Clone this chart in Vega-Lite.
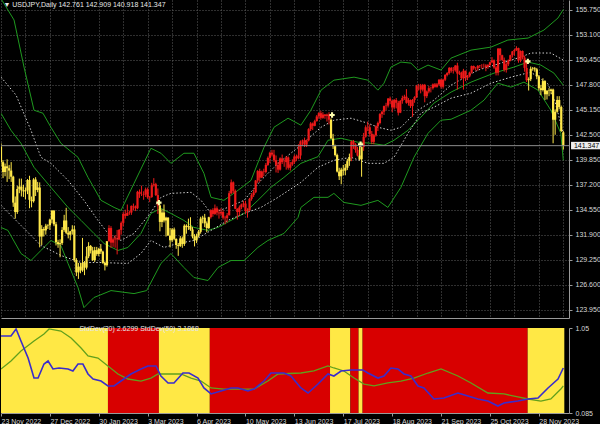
{
"$schema":"https://vega.github.io/schema/vega-lite/v6.json",
"background":"#000000",
"padding":0,
"spacing":6,
"config":{"view":{"stroke":null},"font":"Liberation Sans","axis":{"labelFont":"Liberation Sans","labelFontSize":7,"labelColor":"#d8d8d8","domainColor":"#9a9a9a","tickColor":"#9a9a9a"}},
"datasets":{
"k":[
{"i":0,"o":141.25,"h":141.6,"l":139.15,"c":139.6,"t":"y"},
{"i":1,"o":139.6,"h":139.8,"l":137.9,"c":138.55,"t":"y"},
{"i":2,"o":138.55,"h":139.45,"l":138.1,"c":139.15,"t":"y"},
{"i":3,"o":139.15,"h":139.9,"l":137.5,"c":138.95,"t":"y"},
{"i":4,"o":138.95,"h":139.3,"l":137.8,"c":138.7,"t":"y"},
{"i":5,"o":138.7,"h":139.6,"l":137.5,"c":138.05,"t":"y"},
{"i":6,"o":138.05,"h":138.15,"l":134.85,"c":135.3,"t":"y"},
{"i":7,"o":135.3,"h":135.95,"l":133.6,"c":134.3,"t":"y"},
{"i":8,"o":134.3,"h":137.1,"l":134.1,"c":136.75,"t":"y"},
{"i":9,"o":136.75,"h":137.85,"l":136.3,"c":137.0,"t":"y"},
{"i":10,"o":137.0,"h":137.85,"l":135.95,"c":136.6,"t":"y"},
{"i":11,"o":136.6,"h":137.2,"l":135.9,"c":136.5,"t":"y"},
{"i":12,"o":136.5,"h":136.9,"l":135.65,"c":136.6,"t":"y"},
{"i":13,"o":136.6,"h":137.8,"l":136.2,"c":137.7,"t":"y"},
{"i":14,"o":137.7,"h":138.15,"l":134.7,"c":135.6,"t":"y"},
{"i":15,"o":135.6,"h":135.95,"l":134.8,"c":135.45,"t":"y"},
{"i":16,"o":135.45,"h":137.9,"l":135.3,"c":137.75,"t":"y"},
{"i":17,"o":137.75,"h":138.0,"l":136.0,"c":136.65,"t":"y"},
{"i":18,"o":136.65,"h":137.5,"l":136.4,"c":136.9,"t":"y"},
{"i":19,"o":136.9,"h":137.45,"l":130.55,"c":131.7,"t":"y"},
{"i":20,"o":131.7,"h":132.9,"l":130.8,"c":132.5,"t":"y"},
{"i":21,"o":132.5,"h":132.7,"l":131.7,"c":132.35,"t":"y"},
{"i":22,"o":132.35,"h":133.05,"l":131.9,"c":132.85,"t":"y"},
{"i":23,"o":132.85,"h":133.0,"l":132.5,"c":132.9,"t":"y"},
{"i":24,"o":132.9,"h":133.6,"l":132.4,"c":133.5,"t":"y"},
{"i":25,"o":133.5,"h":134.5,"l":133.1,"c":134.45,"t":"y"},
{"i":26,"o":134.45,"h":134.5,"l":132.8,"c":133.0,"t":"y"},
{"i":27,"o":133.0,"h":133.25,"l":130.75,"c":131.1,"t":"y"},
{"i":28,"o":131.1,"h":131.35,"l":130.5,"c":130.9,"t":"y"},
{"i":29,"o":130.9,"h":131.4,"l":129.5,"c":131.0,"t":"y"},
{"i":30,"o":131.0,"h":132.7,"l":130.8,"c":132.4,"t":"y"},
{"i":31,"o":132.4,"h":134.0,"l":132.2,"c":133.4,"t":"y"},
{"i":32,"o":133.4,"h":134.75,"l":131.95,"c":132.1,"t":"y"},
{"i":33,"o":132.1,"h":132.7,"l":131.5,"c":131.9,"t":"y"},
{"i":34,"o":131.9,"h":132.3,"l":131.3,"c":132.25,"t":"y"},
{"i":35,"o":132.25,"h":132.9,"l":131.9,"c":132.45,"t":"y"},
{"i":36,"o":132.45,"h":132.85,"l":129.0,"c":129.2,"t":"y"},
{"i":37,"o":129.2,"h":129.4,"l":127.5,"c":127.9,"t":"y"},
{"i":38,"o":127.9,"h":128.9,"l":127.2,"c":128.5,"t":"y"},
{"i":39,"o":128.5,"h":128.9,"l":127.8,"c":128.1,"t":"y"},
{"i":40,"o":128.1,"h":131.55,"l":127.95,"c":128.9,"t":"y"},
{"i":41,"o":128.9,"h":129.1,"l":127.6,"c":128.4,"t":"y"},
{"i":42,"o":128.4,"h":130.6,"l":128.2,"c":129.6,"t":"y"},
{"i":43,"o":129.6,"h":131.1,"l":129.4,"c":130.7,"t":"y"},
{"i":44,"o":130.7,"h":130.8,"l":129.9,"c":130.2,"t":"y"},
{"i":45,"o":130.2,"h":130.6,"l":129.1,"c":129.2,"t":"y"},
{"i":46,"o":129.2,"h":130.6,"l":129.0,"c":130.25,"t":"y"},
{"i":47,"o":130.25,"h":130.6,"l":129.65,"c":129.85,"t":"y"},
{"i":48,"o":129.85,"h":130.5,"l":129.6,"c":130.4,"t":"y"},
{"i":49,"o":130.4,"h":130.9,"l":129.85,"c":130.1,"t":"y"},
{"i":50,"o":130.1,"h":130.2,"l":128.8,"c":128.9,"t":"y"},
{"i":51,"o":128.9,"h":129.05,"l":128.1,"c":128.65,"t":"y"},
{"i":52,"o":128.65,"h":131.2,"l":128.5,"c":131.2,"t":"y"},
{"i":53,"o":131.2,"h":132.9,"l":131.15,"c":132.6,"t":"r"},
{"i":54,"o":132.6,"h":132.8,"l":130.5,"c":131.05,"t":"r"},
{"i":55,"o":131.05,"h":131.6,"l":130.6,"c":131.4,"t":"r"},
{"i":56,"o":131.4,"h":131.85,"l":130.5,"c":131.5,"t":"r"},
{"i":57,"o":131.5,"h":132.4,"l":129.8,"c":131.4,"t":"r"},
{"i":58,"o":131.4,"h":132.5,"l":131.3,"c":132.4,"t":"r"},
{"i":59,"o":132.4,"h":133.3,"l":131.9,"c":133.15,"t":"r"},
{"i":60,"o":133.15,"h":134.3,"l":132.8,"c":134.1,"t":"r"},
{"i":61,"o":134.1,"h":134.55,"l":133.6,"c":133.9,"t":"r"},
{"i":62,"o":133.9,"h":135.1,"l":133.9,"c":134.2,"t":"r"},
{"i":63,"o":134.2,"h":134.45,"l":134.0,"c":134.25,"t":"r"},
{"i":64,"o":134.25,"h":135.0,"l":134.0,"c":134.95,"t":"r"},
{"i":65,"o":134.95,"h":135.2,"l":134.5,"c":134.9,"t":"r"},
{"i":66,"o":134.9,"h":135.0,"l":134.4,"c":134.7,"t":"r"},
{"i":67,"o":134.7,"h":136.55,"l":134.6,"c":136.45,"t":"r"},
{"i":68,"o":136.45,"h":136.7,"l":135.8,"c":136.2,"t":"r"},
{"i":69,"o":136.2,"h":137.1,"l":136.0,"c":136.2,"t":"r"},
{"i":70,"o":136.2,"h":136.5,"l":135.6,"c":136.15,"t":"r"},
{"i":71,"o":136.15,"h":136.9,"l":135.9,"c":136.7,"t":"r"},
{"i":72,"o":136.7,"h":136.9,"l":135.7,"c":135.85,"t":"r"},
{"i":73,"o":135.85,"h":136.0,"l":135.35,"c":135.9,"t":"r"},
{"i":74,"o":135.9,"h":137.4,"l":135.8,"c":137.15,"t":"r"},
{"i":75,"o":137.15,"h":137.9,"l":137.0,"c":137.25,"t":"r"},
{"i":76,"o":137.25,"h":137.4,"l":136.0,"c":136.1,"t":"r"},
{"i":77,"o":136.1,"h":136.8,"l":134.1,"c":135.0,"t":"r"},
{"i":78,"o":135.0,"h":135.1,"l":132.25,"c":133.25,"t":"y"},
{"i":79,"o":133.25,"h":134.6,"l":132.7,"c":134.25,"t":"y"},
{"i":80,"o":134.25,"h":135.1,"l":133.2,"c":133.4,"t":"y"},
{"i":81,"o":133.4,"h":133.8,"l":131.7,"c":133.7,"t":"y"},
{"i":82,"o":133.7,"h":133.75,"l":131.8,"c":131.8,"t":"y"},
{"i":83,"o":131.8,"h":132.6,"l":130.55,"c":131.3,"t":"y"},
{"i":84,"o":131.3,"h":132.6,"l":131.1,"c":132.45,"t":"y"},
{"i":85,"o":132.45,"h":132.65,"l":131.3,"c":131.45,"t":"y"},
{"i":86,"o":131.45,"h":131.5,"l":130.4,"c":130.8,"t":"y"},
{"i":87,"o":130.8,"h":131.0,"l":129.65,"c":130.7,"t":"y"},
{"i":88,"o":130.7,"h":131.75,"l":130.6,"c":131.5,"t":"y"},
{"i":89,"o":131.5,"h":131.7,"l":130.5,"c":130.9,"t":"y"},
{"i":90,"o":130.9,"h":133.0,"l":130.7,"c":132.85,"t":"y"},
{"i":91,"o":132.85,"h":133.0,"l":132.0,"c":132.7,"t":"y"},
{"i":92,"o":132.7,"h":133.6,"l":132.4,"c":132.8,"t":"y"},
{"i":93,"o":132.8,"h":133.75,"l":132.3,"c":132.45,"t":"y"},
{"i":94,"o":132.45,"h":132.7,"l":131.5,"c":131.7,"t":"y"},
{"i":95,"o":131.7,"h":131.95,"l":130.65,"c":131.3,"t":"y"},
{"i":96,"o":131.3,"h":132.0,"l":131.0,"c":131.8,"t":"y"},
{"i":97,"o":131.8,"h":132.4,"l":131.6,"c":132.2,"t":"y"},
{"i":98,"o":132.2,"h":133.8,"l":132.0,"c":133.6,"t":"y"},
{"i":99,"o":133.6,"h":133.9,"l":133.1,"c":133.7,"t":"y"},
{"i":100,"o":133.7,"h":134.1,"l":132.7,"c":133.1,"t":"y"},
{"i":101,"o":133.1,"h":133.3,"l":132.15,"c":132.6,"t":"y"},
{"i":102,"o":132.6,"h":133.8,"l":132.5,"c":133.75,"t":"y"},
{"i":103,"o":133.75,"h":134.6,"l":133.6,"c":134.5,"t":"r"},
{"i":104,"o":134.5,"h":134.7,"l":133.8,"c":134.1,"t":"r"},
{"i":105,"o":134.1,"h":135.1,"l":134.0,"c":134.7,"t":"r"},
{"i":106,"o":134.7,"h":134.9,"l":133.95,"c":134.25,"t":"r"},
{"i":107,"o":134.25,"h":134.6,"l":133.6,"c":134.15,"t":"r"},
{"i":108,"o":134.15,"h":134.7,"l":133.9,"c":134.3,"t":"r"},
{"i":109,"o":134.3,"h":134.5,"l":133.5,"c":133.7,"t":"r"},
{"i":110,"o":133.7,"h":133.9,"l":133.0,"c":133.65,"t":"r"},
{"i":111,"o":133.65,"h":134.2,"l":133.2,"c":133.95,"t":"r"},
{"i":112,"o":133.95,"h":136.55,"l":133.95,"c":136.3,"t":"r"},
{"i":113,"o":136.3,"h":137.75,"l":136.2,"c":137.45,"t":"r"},
{"i":114,"o":137.45,"h":137.55,"l":136.3,"c":136.55,"t":"r"},
{"i":115,"o":136.55,"h":136.7,"l":134.6,"c":134.65,"t":"r"},
{"i":116,"o":134.65,"h":134.7,"l":133.5,"c":134.3,"t":"r"},
{"i":117,"o":134.3,"h":135.0,"l":133.9,"c":134.8,"t":"r"},
{"i":118,"o":134.8,"h":135.2,"l":134.6,"c":135.1,"t":"r"},
{"i":119,"o":135.1,"h":135.5,"l":134.8,"c":135.2,"t":"r"},
{"i":120,"o":135.2,"h":135.5,"l":134.1,"c":134.4,"t":"r"},
{"i":121,"o":134.4,"h":134.7,"l":133.7,"c":134.5,"t":"r"},
{"i":122,"o":134.5,"h":135.8,"l":134.4,"c":135.7,"t":"r"},
{"i":123,"o":135.7,"h":136.3,"l":135.5,"c":136.1,"t":"r"},
{"i":124,"o":136.1,"h":136.7,"l":135.9,"c":136.4,"t":"r"},
{"i":125,"o":136.4,"h":137.7,"l":136.3,"c":137.65,"t":"r"},
{"i":126,"o":137.65,"h":138.75,"l":137.4,"c":138.65,"t":"r"},
{"i":127,"o":138.65,"h":138.9,"l":137.5,"c":137.95,"t":"r"},
{"i":128,"o":137.95,"h":138.7,"l":137.9,"c":138.6,"t":"r"},
{"i":129,"o":138.6,"h":138.9,"l":138.1,"c":138.55,"t":"r"},
{"i":130,"o":138.55,"h":139.5,"l":138.4,"c":139.3,"t":"r"},
{"i":131,"o":139.3,"h":140.2,"l":139.2,"c":140.05,"t":"r"},
{"i":132,"o":140.05,"h":140.7,"l":139.5,"c":140.6,"t":"r"},
{"i":133,"o":140.6,"h":140.9,"l":140.2,"c":140.4,"t":"r"},
{"i":134,"o":140.4,"h":140.9,"l":139.6,"c":139.8,"t":"r"},
{"i":135,"o":139.8,"h":140.3,"l":138.5,"c":139.3,"t":"r"},
{"i":136,"o":139.3,"h":139.6,"l":138.45,"c":138.8,"t":"r"},
{"i":137,"o":138.8,"h":140.1,"l":138.7,"c":140.0,"t":"r"},
{"i":138,"o":140.0,"h":140.4,"l":139.4,"c":139.6,"t":"r"},
{"i":139,"o":139.6,"h":139.9,"l":139.1,"c":139.6,"t":"r"},
{"i":140,"o":139.6,"h":140.25,"l":138.8,"c":140.1,"t":"r"},
{"i":141,"o":140.1,"h":140.2,"l":138.8,"c":139.0,"t":"r"},
{"i":142,"o":139.0,"h":139.6,"l":138.7,"c":139.35,"t":"r"},
{"i":143,"o":139.35,"h":139.9,"l":139.2,"c":139.6,"t":"r"},
{"i":144,"o":139.6,"h":140.4,"l":139.4,"c":140.2,"t":"r"},
{"i":145,"o":140.2,"h":140.4,"l":139.7,"c":140.0,"t":"r"},
{"i":146,"o":140.0,"h":141.5,"l":139.9,"c":140.3,"t":"r"},
{"i":147,"o":140.3,"h":141.9,"l":139.9,"c":141.8,"t":"r"},
{"i":148,"o":141.8,"h":142.0,"l":141.3,"c":141.9,"t":"r"},
{"i":149,"o":141.9,"h":142.2,"l":141.2,"c":141.45,"t":"r"},
{"i":150,"o":141.45,"h":142.0,"l":141.2,"c":141.9,"t":"r"},
{"i":151,"o":141.9,"h":143.2,"l":141.8,"c":143.1,"t":"r"},
{"i":152,"o":143.1,"h":143.85,"l":142.9,"c":143.7,"t":"r"},
{"i":153,"o":143.7,"h":143.8,"l":143.0,"c":143.45,"t":"r"},
{"i":154,"o":143.45,"h":144.1,"l":143.4,"c":143.95,"t":"r"},
{"i":155,"o":143.95,"h":144.6,"l":143.9,"c":144.45,"t":"r"},
{"i":156,"o":144.45,"h":144.9,"l":144.2,"c":144.8,"t":"r"},
{"i":157,"o":144.8,"h":145.05,"l":144.1,"c":144.3,"t":"r"},
{"i":158,"o":144.3,"h":144.9,"l":144.2,"c":144.65,"t":"r"},
{"i":159,"o":144.65,"h":144.7,"l":144.2,"c":144.5,"t":"r"},
{"i":160,"o":144.5,"h":144.75,"l":143.9,"c":144.65,"t":"r"},
{"i":161,"o":144.65,"h":144.9,"l":143.6,"c":144.1,"t":"r"},
{"i":162,"o":144.1,"h":144.25,"l":142.1,"c":142.1,"t":"y"},
{"i":163,"o":142.1,"h":142.6,"l":141.0,"c":141.3,"t":"y"},
{"i":164,"o":141.3,"h":141.45,"l":140.2,"c":140.35,"t":"y"},
{"i":165,"o":140.35,"h":140.5,"l":138.5,"c":138.6,"t":"y"},
{"i":166,"o":138.6,"h":139.0,"l":137.7,"c":138.1,"t":"y"},
{"i":167,"o":138.1,"h":139.0,"l":137.25,"c":138.8,"t":"y"},
{"i":168,"o":138.8,"h":139.3,"l":138.2,"c":138.7,"t":"y"},
{"i":169,"o":138.7,"h":139.4,"l":138.2,"c":139.0,"t":"y"},
{"i":170,"o":139.0,"h":139.95,"l":138.75,"c":139.7,"t":"y"},
{"i":171,"o":139.7,"h":140.5,"l":139.2,"c":140.1,"t":"y"},
{"i":172,"o":140.1,"h":141.9,"l":139.7,"c":141.8,"t":"r"},
{"i":173,"o":141.8,"h":141.95,"l":141.0,"c":141.5,"t":"r"},
{"i":174,"o":141.5,"h":141.6,"l":140.6,"c":140.9,"t":"r"},
{"i":175,"o":140.9,"h":141.2,"l":140.2,"c":140.3,"t":"r"},
{"i":176,"o":140.3,"h":141.3,"l":139.8,"c":139.9,"t":"y"},
{"i":177,"o":139.9,"h":141.15,"l":138.05,"c":141.2,"t":"y"},
{"i":178,"o":141.2,"h":142.7,"l":140.8,"c":142.3,"t":"r"},
{"i":179,"o":142.3,"h":143.5,"l":142.2,"c":143.3,"t":"r"},
{"i":180,"o":143.3,"h":143.9,"l":142.9,"c":143.3,"t":"r"},
{"i":181,"o":143.3,"h":143.6,"l":142.3,"c":142.6,"t":"r"},
{"i":182,"o":142.6,"h":142.9,"l":141.5,"c":141.75,"t":"r"},
{"i":183,"o":141.75,"h":142.6,"l":141.5,"c":142.45,"t":"r"},
{"i":184,"o":142.45,"h":143.5,"l":142.3,"c":143.4,"t":"r"},
{"i":185,"o":143.4,"h":143.9,"l":142.9,"c":143.75,"t":"r"},
{"i":186,"o":143.75,"h":144.8,"l":143.6,"c":144.7,"t":"r"},
{"i":187,"o":144.7,"h":145.05,"l":144.3,"c":144.95,"t":"r"},
{"i":188,"o":144.95,"h":145.6,"l":144.6,"c":145.55,"t":"r"},
{"i":189,"o":145.55,"h":145.9,"l":145.1,"c":145.6,"t":"r"},
{"i":190,"o":145.6,"h":146.4,"l":145.4,"c":146.35,"t":"r"},
{"i":191,"o":146.35,"h":146.55,"l":145.75,"c":146.1,"t":"r"},
{"i":192,"o":146.1,"h":146.2,"l":144.9,"c":145.4,"t":"r"},
{"i":193,"o":145.4,"h":146.3,"l":145.2,"c":146.2,"t":"r"},
{"i":194,"o":146.2,"h":146.4,"l":145.3,"c":145.9,"t":"r"},
{"i":195,"o":145.9,"h":146.1,"l":144.55,"c":144.85,"t":"r"},
{"i":196,"o":144.85,"h":146.2,"l":144.8,"c":146.1,"t":"r"},
{"i":197,"o":146.1,"h":146.65,"l":145.8,"c":146.4,"t":"r"},
{"i":198,"o":146.4,"h":146.75,"l":146.2,"c":146.55,"t":"r"},
{"i":199,"o":146.55,"h":147.35,"l":145.8,"c":145.9,"t":"r"},
{"i":200,"o":145.9,"h":146.4,"l":145.6,"c":146.2,"t":"r"},
{"i":201,"o":146.2,"h":146.25,"l":145.35,"c":145.55,"t":"r"},
{"i":202,"o":145.55,"h":146.3,"l":144.4,"c":146.2,"t":"r"},
{"i":203,"o":146.2,"h":146.6,"l":145.9,"c":146.5,"t":"r"},
{"i":204,"o":146.5,"h":147.8,"l":146.4,"c":147.7,"t":"r"},
{"i":205,"o":147.7,"h":147.9,"l":147.2,"c":147.7,"t":"r"},
{"i":206,"o":147.7,"h":147.9,"l":146.9,"c":147.3,"t":"r"},
{"i":207,"o":147.3,"h":147.9,"l":147.1,"c":147.8,"t":"r"},
{"i":208,"o":147.8,"h":147.9,"l":145.95,"c":146.6,"t":"r"},
{"i":209,"o":146.6,"h":147.2,"l":146.4,"c":147.1,"t":"r"},
{"i":210,"o":147.1,"h":147.7,"l":146.9,"c":147.45,"t":"r"},
{"i":211,"o":147.45,"h":147.6,"l":147.0,"c":147.45,"t":"r"},
{"i":212,"o":147.45,"h":147.95,"l":147.3,"c":147.85,"t":"r"},
{"i":213,"o":147.85,"h":148.0,"l":147.5,"c":147.6,"t":"r"},
{"i":214,"o":147.6,"h":148.0,"l":147.5,"c":147.85,"t":"r"},
{"i":215,"o":147.85,"h":148.4,"l":147.7,"c":148.35,"t":"r"},
{"i":216,"o":148.35,"h":148.45,"l":147.4,"c":147.6,"t":"r"},
{"i":217,"o":147.6,"h":148.45,"l":147.4,"c":148.35,"t":"r"},
{"i":218,"o":148.35,"h":148.95,"l":148.2,"c":148.85,"t":"r"},
{"i":219,"o":148.85,"h":149.15,"l":148.7,"c":149.05,"t":"r"},
{"i":220,"o":149.05,"h":149.7,"l":148.9,"c":149.6,"t":"r"},
{"i":221,"o":149.6,"h":149.7,"l":149.1,"c":149.3,"t":"r"},
{"i":222,"o":149.3,"h":149.7,"l":149.0,"c":149.35,"t":"r"},
{"i":223,"o":149.35,"h":149.9,"l":149.2,"c":149.85,"t":"r"},
{"i":224,"o":149.85,"h":150.15,"l":147.3,"c":149.0,"t":"r"},
{"i":225,"o":149.0,"h":149.3,"l":148.85,"c":149.1,"t":"r"},
{"i":226,"o":149.1,"h":149.2,"l":148.4,"c":148.5,"t":"r"},
{"i":227,"o":148.5,"h":149.5,"l":147.3,"c":149.3,"t":"r"},
{"i":228,"o":149.3,"h":149.3,"l":148.2,"c":148.55,"t":"r"},
{"i":229,"o":148.55,"h":148.85,"l":148.3,"c":148.7,"t":"r"},
{"i":230,"o":148.7,"h":149.2,"l":148.6,"c":149.1,"t":"r"},
{"i":231,"o":149.1,"h":149.85,"l":149.0,"c":149.8,"t":"r"},
{"i":232,"o":149.8,"h":149.85,"l":149.4,"c":149.55,"t":"r"},
{"i":233,"o":149.55,"h":149.7,"l":149.3,"c":149.55,"t":"r"},
{"i":234,"o":149.55,"h":149.9,"l":149.3,"c":149.8,"t":"r"},
{"i":235,"o":149.8,"h":149.9,"l":149.6,"c":149.85,"t":"r"},
{"i":236,"o":149.85,"h":150.0,"l":149.5,"c":149.85,"t":"r"},
{"i":237,"o":149.85,"h":150.05,"l":149.6,"c":149.85,"t":"r"},
{"i":238,"o":149.85,"h":150.0,"l":149.25,"c":149.7,"t":"r"},
{"i":239,"o":149.7,"h":150.0,"l":149.5,"c":149.9,"t":"r"},
{"i":240,"o":149.9,"h":150.25,"l":149.8,"c":150.2,"t":"r"},
{"i":241,"o":150.2,"h":150.75,"l":150.1,"c":150.4,"t":"r"},
{"i":242,"o":150.4,"h":150.5,"l":149.5,"c":149.65,"t":"r"},
{"i":243,"o":149.65,"h":149.8,"l":148.8,"c":149.1,"t":"r"},
{"i":244,"o":149.1,"h":151.7,"l":148.8,"c":151.65,"t":"r"},
{"i":245,"o":151.65,"h":151.7,"l":150.4,"c":150.95,"t":"r"},
{"i":246,"o":150.95,"h":151.0,"l":150.3,"c":150.45,"t":"r"},
{"i":247,"o":150.45,"h":150.7,"l":149.2,"c":149.4,"t":"r"},
{"i":248,"o":149.4,"h":150.2,"l":149.1,"c":150.0,"t":"r"},
{"i":249,"o":150.0,"h":150.5,"l":149.8,"c":150.4,"t":"r"},
{"i":250,"o":150.4,"h":151.0,"l":150.3,"c":150.95,"t":"r"},
{"i":251,"o":150.95,"h":151.4,"l":150.7,"c":151.35,"t":"r"},
{"i":252,"o":151.35,"h":151.6,"l":150.9,"c":151.5,"t":"r"},
{"i":253,"o":151.5,"h":151.9,"l":151.4,"c":151.7,"t":"r"},
{"i":254,"o":151.7,"h":151.75,"l":150.15,"c":150.4,"t":"r"},
{"i":255,"o":150.4,"h":151.45,"l":150.2,"c":151.4,"t":"r"},
{"i":256,"o":151.4,"h":151.45,"l":150.5,"c":150.7,"t":"r"},
{"i":257,"o":150.7,"h":150.9,"l":149.2,"c":149.6,"t":"r"},
{"i":258,"o":149.6,"h":150.4,"l":148.1,"c":148.3,"t":"r"},
{"i":259,"o":148.3,"h":148.6,"l":147.2,"c":148.4,"t":"y"},
{"i":260,"o":148.4,"h":149.75,"l":148.2,"c":149.5,"t":"y"},
{"i":261,"o":149.5,"h":149.7,"l":149.3,"c":149.55,"t":"y"},
{"i":262,"o":149.55,"h":149.7,"l":149.2,"c":149.45,"t":"y"},
{"i":263,"o":149.45,"h":149.6,"l":148.4,"c":148.7,"t":"y"},
{"i":264,"o":148.7,"h":148.85,"l":147.2,"c":147.45,"t":"y"},
{"i":265,"o":147.45,"h":147.8,"l":146.7,"c":147.25,"t":"y"},
{"i":266,"o":147.25,"h":148.5,"l":147.1,"c":148.2,"t":"y"},
{"i":267,"o":148.2,"h":148.3,"l":146.2,"c":146.8,"t":"y"},
{"i":268,"o":146.8,"h":147.2,"l":146.25,"c":147.2,"t":"y"},
{"i":269,"o":147.2,"h":147.45,"l":146.6,"c":147.15,"t":"y"},
{"i":270,"o":147.15,"h":147.4,"l":146.8,"c":147.3,"t":"y"},
{"i":271,"o":147.3,"h":147.4,"l":141.6,"c":144.1,"t":"y"},
{"i":272,"o":144.1,"h":145.2,"l":142.5,"c":144.95,"t":"y"},
{"i":273,"o":144.95,"h":146.6,"l":144.85,"c":146.2,"t":"y"},
{"i":274,"o":146.2,"h":146.6,"l":145.2,"c":145.45,"t":"y"},
{"i":275,"o":145.45,"h":145.6,"l":142.8,"c":142.9,"t":"y"},
{"i":276,"o":142.761,"h":142.909,"l":140.918,"c":141.347,"t":"y"}
],
"bands":[
{"s":"U","i":0,"p":156.95},{"s":"U","i":6.4,"p":154.69},{"s":"U","i":11.3,"p":149.69},{"s":"U","i":16.2,"p":145.11},{"s":"U","i":20.6,"p":144.79},{"s":"U","i":24.5,"p":143.3},{"s":"U","i":29.4,"p":141.6},{"s":"U","i":37.8,"p":140.11},{"s":"U","i":42.7,"p":137.98},{"s":"U","i":49.1,"p":135.54},{"s":"U","i":55.5,"p":134.79},{"s":"U","i":58.9,"p":134.47},{"s":"U","i":65.3,"p":137.35},{"s":"U","i":73.6,"p":141.07},{"s":"U","i":78.5,"p":140.54},{"s":"U","i":83.4,"p":139.47},{"s":"U","i":89.8,"p":140.54},{"s":"U","i":94.7,"p":140.54},{"s":"U","i":99.6,"p":138.41},{"s":"U","i":103.1,"p":135.86},{"s":"U","i":109.4,"p":135.54},{"s":"U","i":116.3,"p":136.6},{"s":"U","i":122.7,"p":137.66},{"s":"U","i":129.1,"p":141.18},{"s":"U","i":134,"p":143.3},{"s":"U","i":140.9,"p":144.26},{"s":"U","i":147.2,"p":143.52},{"s":"U","i":152.1,"p":145.11},{"s":"U","i":157.1,"p":147.24},{"s":"U","i":163.4,"p":148.3},{"s":"U","i":173.3,"p":148.62},{"s":"U","i":180.1,"p":148.3},{"s":"U","i":185,"p":147.24},{"s":"U","i":188,"p":147.98},{"s":"U","i":191.4,"p":149.69},{"s":"U","i":196.3,"p":150.22},{"s":"U","i":201.2,"p":150.11},{"s":"U","i":204.7,"p":149.37},{"s":"U","i":209.6,"p":149.9},{"s":"U","i":216,"p":149.37},{"s":"U","i":220.9,"p":150.64},{"s":"U","i":230.7,"p":151.49},{"s":"U","i":240.5,"p":151.81},{"s":"U","i":248.8,"p":152.56},{"s":"U","i":258.7,"p":152.77},{"s":"U","i":266.5,"p":153.62},{"s":"U","i":273.4,"p":154.9},{"s":"U","i":276,"p":155.8},
{"s":"M","i":0,"p":144.79},{"s":"M","i":4.9,"p":142.98},{"s":"M","i":9.8,"p":141.6},{"s":"M","i":16.2,"p":139.05},{"s":"M","i":24.5,"p":136.92},{"s":"M","i":32.9,"p":134.79},{"s":"M","i":39.3,"p":133.41},{"s":"M","i":45.6,"p":132.03},{"s":"M","i":50.6,"p":130.96},{"s":"M","i":57.4,"p":130.22},{"s":"M","i":62.3,"p":130.54},{"s":"M","i":68.7,"p":132.03},{"s":"M","i":73.6,"p":134.15},{"s":"M","i":78.5,"p":134.69},{"s":"M","i":83.4,"p":134.15},{"s":"M","i":89.8,"p":133.41},{"s":"M","i":94.7,"p":132.67},{"s":"M","i":101.6,"p":132.35},{"s":"M","i":106.5,"p":132.67},{"s":"M","i":112.9,"p":133.41},{"s":"M","i":119.3,"p":134.15},{"s":"M","i":126.1,"p":135.54},{"s":"M","i":132.5,"p":136.92},{"s":"M","i":138.9,"p":137.98},{"s":"M","i":147.2,"p":139.47},{"s":"M","i":155.6,"p":140.18},{"s":"M","i":160.5,"p":141.92},{"s":"M","i":166.9,"p":142.13},{"s":"M","i":175.2,"p":141.71},{"s":"M","i":181.6,"p":141.6},{"s":"M","i":188,"p":141.39},{"s":"M","i":192.9,"p":141.92},{"s":"M","i":199.8,"p":142.98},{"s":"M","i":206.1,"p":144.37},{"s":"M","i":212.5,"p":145.86},{"s":"M","i":220.9,"p":147.03},{"s":"M","i":230.7,"p":148.09},{"s":"M","i":242,"p":149.05},{"s":"M","i":251.8,"p":149.69},{"s":"M","i":258.7,"p":150.22},{"s":"M","i":265,"p":149.9},{"s":"M","i":271.4,"p":149.05},{"s":"M","i":276,"p":147.77},
{"s":"L","i":0,"p":132.66},{"s":"L","i":3.4,"p":132.35},{"s":"L","i":9.8,"p":129.9},{"s":"L","i":14.7,"p":129.15},{"s":"L","i":19.6,"p":130.22},{"s":"L","i":24.5,"p":131.28},{"s":"L","i":29.4,"p":130.75},{"s":"L","i":32.9,"p":128.84},{"s":"L","i":37.8,"p":126.28},{"s":"L","i":40.7,"p":124.15},{"s":"L","i":45.6,"p":125.22},{"s":"L","i":54,"p":125.96},{"s":"L","i":65.3,"p":125.64},{"s":"L","i":71.5,"p":125.96},{"s":"L","i":78.5,"p":128.84},{"s":"L","i":83.4,"p":129.9},{"s":"L","i":89.8,"p":128.41},{"s":"L","i":94.7,"p":127.35},{"s":"L","i":101.6,"p":127.03},{"s":"L","i":106.5,"p":128.41},{"s":"L","i":112.9,"p":129.15},{"s":"L","i":119.3,"p":129.15},{"s":"L","i":126.1,"p":130.54},{"s":"L","i":131,"p":131.28},{"s":"L","i":138.9,"p":132.03},{"s":"L","i":145.8,"p":133.73},{"s":"L","i":147.2,"p":134.79},{"s":"L","i":153.6,"p":135.86},{"s":"L","i":160.5,"p":135.86},{"s":"L","i":163.4,"p":136.28},{"s":"L","i":168.3,"p":135.32},{"s":"L","i":176.7,"p":135.01},{"s":"L","i":185,"p":135.54},{"s":"L","i":189.9,"p":134.79},{"s":"L","i":196.3,"p":136.92},{"s":"L","i":202.7,"p":140.11},{"s":"L","i":209.6,"p":142.66},{"s":"L","i":216,"p":144.05},{"s":"L","i":220.9,"p":144.15},{"s":"L","i":230.7,"p":145.11},{"s":"L","i":237.1,"p":146.18},{"s":"L","i":243.9,"p":147.98},{"s":"L","i":250.3,"p":147.56},{"s":"L","i":256.7,"p":148.09},{"s":"L","i":263.6,"p":147.24},{"s":"L","i":269.9,"p":145.11},{"s":"L","i":274.8,"p":142.66},{"s":"L","i":276,"p":139.79},
{"s":"D1","i":0,"p":148.62},{"s":"D1","i":7.4,"p":146.71},{"s":"D1","i":14.7,"p":142.98},{"s":"D1","i":19.6,"p":140.11},{"s":"D1","i":24.5,"p":139.47},{"s":"D1","i":32.9,"p":137.66},{"s":"D1","i":40.7,"p":135.54},{"s":"D1","i":47.6,"p":133.41},{"s":"D1","i":52.5,"p":132.03},{"s":"D1","i":58.9,"p":131.28},{"s":"D1","i":65.3,"p":132.03},{"s":"D1","i":73.6,"p":134.26},{"s":"D1","i":78.5,"p":135.86},{"s":"D1","i":83.4,"p":136.28},{"s":"D1","i":93.3,"p":136.39},{"s":"D1","i":98.2,"p":135.54},{"s":"D1","i":103.1,"p":134.15},{"s":"D1","i":111.4,"p":134.79},{"s":"D1","i":119.3,"p":135.54},{"s":"D1","i":127.6,"p":137.66},{"s":"D1","i":136,"p":139.47},{"s":"D1","i":147.2,"p":141.39},{"s":"D1","i":157.1,"p":143.3},{"s":"D1","i":163.4,"p":144.05},{"s":"D1","i":171.8,"p":144.26},{"s":"D1","i":180.1,"p":143.73},{"s":"D1","i":185,"p":143.3},{"s":"D1","i":191.4,"p":142.98},{"s":"D1","i":196.3,"p":143.3},{"s":"D1","i":204.7,"p":145.11},{"s":"D1","i":212.5,"p":146.18},{"s":"D1","i":220.9,"p":147.77},{"s":"D1","i":234.1,"p":149.37},{"s":"D1","i":245.4,"p":150.11},{"s":"D1","i":255.2,"p":150.75},{"s":"D1","i":260.1,"p":151.18},{"s":"D1","i":269.9,"p":151.18},{"s":"D1","i":276,"p":150.43},
{"s":"D2","i":0,"p":135.01},{"s":"D2","i":9.8,"p":132.88},{"s":"D2","i":19.6,"p":130.75},{"s":"D2","i":29.4,"p":129.69},{"s":"D2","i":39.3,"p":128.94},{"s":"D2","i":49.1,"p":128.94},{"s":"D2","i":62.3,"p":128.84},{"s":"D2","i":68.7,"p":129.9},{"s":"D2","i":73.6,"p":131.28},{"s":"D2","i":80,"p":130.54},{"s":"D2","i":86.9,"p":130.96},{"s":"D2","i":94.7,"p":131.28},{"s":"D2","i":103.1,"p":132.35},{"s":"D2","i":111.4,"p":133.41},{"s":"D2","i":119.3,"p":134.15},{"s":"D2","i":127.6,"p":134.79},{"s":"D2","i":136,"p":135.86},{"s":"D2","i":147.2,"p":137.45},{"s":"D2","i":155.6,"p":139.05},{"s":"D2","i":163.4,"p":139.79},{"s":"D2","i":171.8,"p":140.11},{"s":"D2","i":180.1,"p":139.47},{"s":"D2","i":188,"p":139.47},{"s":"D2","i":192.9,"p":140.11},{"s":"D2","i":199.8,"p":142.66},{"s":"D2","i":206.1,"p":144.79},{"s":"D2","i":212.5,"p":145.43},{"s":"D2","i":220.9,"p":146.39},{"s":"D2","i":230.7,"p":146.92},{"s":"D2","i":240.5,"p":147.98},{"s":"D2","i":250.3,"p":148.62},{"s":"D2","i":260.1,"p":149.15},{"s":"D2","i":268.5,"p":147.9},{"s":"D2","i":272,"p":146.0},{"s":"D2","i":276,"p":142.6}
],
"sig":[{"i":77.5,"p":135.3},{"i":162.5,"p":144.6},{"i":176.5,"p":141.5},{"i":258.6,"p":150.3}],
"seg":[{"a":-1,"b":52.5,"t":"y","lo":0.085,"hi":1.05},{"a":52.5,"b":77.5,"t":"r","lo":0.085,"hi":1.05},{"a":77.5,"b":102.5,"t":"y","lo":0.085,"hi":1.05},{"a":102.5,"b":161.5,"t":"r","lo":0.085,"hi":1.05},{"a":161.5,"b":171.5,"t":"y","lo":0.085,"hi":1.05},{"a":171.5,"b":175.5,"t":"r","lo":0.085,"hi":1.05},{"a":175.5,"b":177.5,"t":"y","lo":0.085,"hi":1.05},{"a":177.5,"b":258.5,"t":"r","lo":0.085,"hi":1.05},{"a":258.5,"b":276.5,"t":"y","lo":0.085,"hi":1.05}],
"osc":[
{"s":"b","i":0,"v":0.959},{"s":"b","i":4.9,"v":0.959},{"s":"b","i":7.4,"v":1.039},{"s":"b","i":9.8,"v":0.902},{"s":"b","i":13.3,"v":0.709},{"s":"b","i":16.2,"v":0.482},{"s":"b","i":18.2,"v":0.482},{"s":"b","i":21.1,"v":0.641},{"s":"b","i":23.1,"v":0.675},{"s":"b","i":25.5,"v":0.585},{"s":"b","i":28.5,"v":0.596},{"s":"b","i":32.9,"v":0.585},{"s":"b","i":35.3,"v":0.562},{"s":"b","i":37.8,"v":0.641},{"s":"b","i":40.2,"v":0.641},{"s":"b","i":42.7,"v":0.528},{"s":"b","i":45.2,"v":0.471},{"s":"b","i":49.1,"v":0.448},{"s":"b","i":52.5,"v":0.392},{"s":"b","i":55.5,"v":0.392},{"s":"b","i":58.9,"v":0.448},{"s":"b","i":63.8,"v":0.528},{"s":"b","i":68.7,"v":0.585},{"s":"b","i":72.1,"v":0.619},{"s":"b","i":76.1,"v":0.619},{"s":"b","i":78.5,"v":0.505},{"s":"b","i":82,"v":0.426},{"s":"b","i":84.9,"v":0.426},{"s":"b","i":89.3,"v":0.539},{"s":"b","i":92.3,"v":0.539},{"s":"b","i":96.7,"v":0.482},{"s":"b","i":99.6,"v":0.369},{"s":"b","i":103.1,"v":0.301},{"s":"b","i":108,"v":0.335},{"s":"b","i":112.9,"v":0.369},{"s":"b","i":116.3,"v":0.369},{"s":"b","i":121.2,"v":0.335},{"s":"b","i":124.2,"v":0.357},{"s":"b","i":129.1,"v":0.448},{"s":"b","i":132.5,"v":0.539},{"s":"b","i":138.9,"v":0.539},{"s":"b","i":142.3,"v":0.505},{"s":"b","i":147.2,"v":0.369},{"s":"b","i":150.7,"v":0.312},{"s":"b","i":155.6,"v":0.414},{"s":"b","i":160.5,"v":0.528},{"s":"b","i":163.4,"v":0.505},{"s":"b","i":166.9,"v":0.562},{"s":"b","i":171.8,"v":0.573},{"s":"b","i":177.7,"v":0.573},{"s":"b","i":180.1,"v":0.539},{"s":"b","i":185,"v":0.482},{"s":"b","i":188,"v":0.505},{"s":"b","i":191.4,"v":0.596},{"s":"b","i":194.8,"v":0.585},{"s":"b","i":197.8,"v":0.528},{"s":"b","i":201.2,"v":0.505},{"s":"b","i":204.7,"v":0.392},{"s":"b","i":207.6,"v":0.369},{"s":"b","i":212.5,"v":0.244},{"s":"b","i":217.4,"v":0.255},{"s":"b","i":224.3,"v":0.312},{"s":"b","i":229.2,"v":0.278},{"s":"b","i":234.1,"v":0.244},{"s":"b","i":239,"v":0.221},{"s":"b","i":243.9,"v":0.164},{"s":"b","i":246.9,"v":0.199},{"s":"b","i":253.7,"v":0.221},{"s":"b","i":258.7,"v":0.244},{"s":"b","i":263.6,"v":0.255},{"s":"b","i":268.5,"v":0.369},{"s":"b","i":273.4,"v":0.471},{"s":"b","i":276,"v":0.596},
{"s":"g","i":0,"v":0.585},{"s":"g","i":4.9,"v":0.675},{"s":"g","i":9.8,"v":0.789},{"s":"g","i":16.2,"v":0.902},{"s":"g","i":21.1,"v":0.982},{"s":"g","i":23.6,"v":1.039},{"s":"g","i":29.4,"v":1.016},{"s":"g","i":34.4,"v":0.936},{"s":"g","i":39.3,"v":0.823},{"s":"g","i":42.7,"v":0.732},{"s":"g","i":47.6,"v":0.709},{"s":"g","i":52.5,"v":0.619},{"s":"g","i":57.4,"v":0.528},{"s":"g","i":62.3,"v":0.471},{"s":"g","i":68.7,"v":0.448},{"s":"g","i":73.6,"v":0.482},{"s":"g","i":77.1,"v":0.528},{"s":"g","i":88.3,"v":0.528},{"s":"g","i":93.3,"v":0.482},{"s":"g","i":98.2,"v":0.448},{"s":"g","i":103.1,"v":0.369},{"s":"g","i":109.4,"v":0.357},{"s":"g","i":117.8,"v":0.357},{"s":"g","i":124.2,"v":0.357},{"s":"g","i":131,"v":0.448},{"s":"g","i":136,"v":0.528},{"s":"g","i":147.2,"v":0.539},{"s":"g","i":153.6,"v":0.562},{"s":"g","i":160.5,"v":0.619},{"s":"g","i":163.4,"v":0.596},{"s":"g","i":168.3,"v":0.562},{"s":"g","i":173.3,"v":0.482},{"s":"g","i":178.2,"v":0.414},{"s":"g","i":183.1,"v":0.392},{"s":"g","i":189.9,"v":0.426},{"s":"g","i":196.3,"v":0.448},{"s":"g","i":202.7,"v":0.482},{"s":"g","i":209.6,"v":0.539},{"s":"g","i":216,"v":0.585},{"s":"g","i":224.3,"v":0.505},{"s":"g","i":230.7,"v":0.426},{"s":"g","i":239,"v":0.312},{"s":"g","i":246.9,"v":0.301},{"s":"g","i":253.7,"v":0.267},{"s":"g","i":258.7,"v":0.244},{"s":"g","i":265,"v":0.221},{"s":"g","i":269.9,"v":0.244},{"s":"g","i":274.8,"v":0.357},{"s":"g","i":276,"v":0.392}
]
},
"resolve":{"scale":{"x":"independent","y":"independent","color":"independent"}},
"vconcat":[
{
"width":568,"height":318,
"layer":[
{"data":{"name":"bands"},"transform":[{"filter":"datum.s=='U'||datum.s=='M'||datum.s=='L'"}],
"mark":{"type":"line","color":"#1f9a1f","strokeWidth":1,"clip":true},
"encoding":{
"x":{"field":"i","type":"quantitative","scale":{"domain":[0,278.8],"nice":false,"zero":false},"axis":{"orient":"bottom","values":[0,12,24,36,48,60,72,84,96,108,120,132,144,156,168,180,192,204,216,228,240,252,264,276],"labels":false,"ticks":false,"grid":true,"gridColor":"#5e5e5e","gridDash":[1,2],"domain":true,"title":null}},
"y":{"field":"p","type":"quantitative","scale":{"domain":[123.05,156.81],"nice":false,"zero":false},"axis":{"orient":"right","values":[123.95,126.6,129.25,131.9,134.55,137.2,139.85,142.5,145.15,147.8,150.45,153.1,155.75],"format":".3f","grid":true,"gridColor":"#5e5e5e","gridDash":[1,2],"tickSize":3,"labelPadding":3,"labelFlush":false,"labelOverlap":false,"title":null}},
"detail":{"field":"s"}}},
{"data":{"name":"bands"},"transform":[{"filter":"datum.s=='D1'||datum.s=='D2'"}],
"mark":{"type":"line","color":"#cfcfcf","strokeWidth":1,"strokeDash":[1.5,2],"clip":true},
"encoding":{
"x":{"field":"i","type":"quantitative","scale":{"domain":[0,278.8],"nice":false,"zero":false},"axis":{"orient":"bottom","values":[0,12,24,36,48,60,72,84,96,108,120,132,144,156,168,180,192,204,216,228,240,252,264,276],"labels":false,"ticks":false,"grid":true,"gridColor":"#5e5e5e","gridDash":[1,2],"domain":true,"title":null}},
"y":{"field":"p","type":"quantitative","scale":{"domain":[123.05,156.81],"nice":false,"zero":false},"axis":{"orient":"right","values":[123.95,126.6,129.25,131.9,134.55,137.2,139.85,142.5,145.15,147.8,150.45,153.1,155.75],"format":".3f","grid":true,"gridColor":"#5e5e5e","gridDash":[1,2],"tickSize":3,"labelPadding":3,"labelFlush":false,"labelOverlap":false,"title":null}},
"detail":{"field":"s"}}},
{"data":{"name":"k"},"mark":{"type":"rule","strokeWidth":1,"clip":true},
"encoding":{
"x":{"field":"i","type":"quantitative","scale":{"domain":[0,278.8],"nice":false,"zero":false},"axis":{"orient":"bottom","values":[0,12,24,36,48,60,72,84,96,108,120,132,144,156,168,180,192,204,216,228,240,252,264,276],"labels":false,"ticks":false,"grid":true,"gridColor":"#5e5e5e","gridDash":[1,2],"domain":true,"title":null}},
"y":{"field":"l","type":"quantitative","scale":{"domain":[123.05,156.81],"nice":false,"zero":false},"axis":{"orient":"right","values":[123.95,126.6,129.25,131.9,134.55,137.2,139.85,142.5,145.15,147.8,150.45,153.1,155.75],"format":".3f","grid":true,"gridColor":"#5e5e5e","gridDash":[1,2],"tickSize":3,"labelPadding":3,"labelFlush":false,"labelOverlap":false,"title":null}},
"y2":{"field":"h"},
"color":{"field":"t","type":"nominal","scale":{"domain":["y","r"],"range":["#ffe84a","#ee1a1a"]},"legend":null}}},
{"data":{"name":"k"},"mark":{"type":"rule","strokeWidth":2.2,"clip":true},
"encoding":{
"x":{"field":"i","type":"quantitative","scale":{"domain":[0,278.8],"nice":false,"zero":false},"axis":{"orient":"bottom","values":[0,12,24,36,48,60,72,84,96,108,120,132,144,156,168,180,192,204,216,228,240,252,264,276],"labels":false,"ticks":false,"grid":true,"gridColor":"#5e5e5e","gridDash":[1,2],"domain":true,"title":null}},
"y":{"field":"o","type":"quantitative","scale":{"domain":[123.05,156.81],"nice":false,"zero":false},"axis":{"orient":"right","values":[123.95,126.6,129.25,131.9,134.55,137.2,139.85,142.5,145.15,147.8,150.45,153.1,155.75],"format":".3f","grid":true,"gridColor":"#5e5e5e","gridDash":[1,2],"tickSize":3,"labelPadding":3,"labelFlush":false,"labelOverlap":false,"title":null}},
"y2":{"field":"c"},
"color":{"field":"t","type":"nominal","scale":{"domain":["y","r"],"range":["#ffe84a","#ee1a1a"]},"legend":null}}},
{"data":{"name":"sig"},"mark":{"type":"point","shape":"cross","filled":true,"size":28,"color":"#ffffb0","opacity":1},
"encoding":{
"x":{"field":"i","type":"quantitative","scale":{"domain":[0,278.8],"nice":false,"zero":false},"axis":{"orient":"bottom","values":[0,12,24,36,48,60,72,84,96,108,120,132,144,156,168,180,192,204,216,228,240,252,264,276],"labels":false,"ticks":false,"grid":true,"gridColor":"#5e5e5e","gridDash":[1,2],"domain":true,"title":null}},
"y":{"field":"p","type":"quantitative","scale":{"domain":[123.05,156.81],"nice":false,"zero":false},"axis":{"orient":"right","values":[123.95,126.6,129.25,131.9,134.55,137.2,139.85,142.5,145.15,147.8,150.45,153.1,155.75],"format":".3f","grid":true,"gridColor":"#5e5e5e","gridDash":[1,2],"tickSize":3,"labelPadding":3,"labelFlush":false,"labelOverlap":false,"title":null}}}},
{"data":{"values":[{"p":141.347,"a":279.8,"b":295.2,"y1":141.75,"y2":140.96,"tx":281.2,"lab":"141.347"}]},
"layer":[
{"mark":{"type":"rule","color":"#8c8c8c","strokeWidth":1},
"encoding":{"y":{"field":"p","type":"quantitative","scale":{"domain":[123.05,156.81],"nice":false,"zero":false},"axis":{"orient":"right","values":[123.95,126.6,129.25,131.9,134.55,137.2,139.85,142.5,145.15,147.8,150.45,153.1,155.75],"format":".3f","grid":true,"gridColor":"#5e5e5e","gridDash":[1,2],"tickSize":3,"labelPadding":3,"labelFlush":false,"labelOverlap":false,"title":null}}}},
{"mark":{"type":"rect","color":"#eeeeee"},
"encoding":{
"x":{"field":"a","type":"quantitative","scale":{"domain":[0,278.8],"nice":false,"zero":false},"axis":{"orient":"bottom","values":[0,12,24,36,48,60,72,84,96,108,120,132,144,156,168,180,192,204,216,228,240,252,264,276],"labels":false,"ticks":false,"grid":true,"gridColor":"#5e5e5e","gridDash":[1,2],"domain":true,"title":null}},
"x2":{"field":"b"},
"y":{"field":"y1","type":"quantitative","scale":{"domain":[123.05,156.81],"nice":false,"zero":false},"axis":{"orient":"right","values":[123.95,126.6,129.25,131.9,134.55,137.2,139.85,142.5,145.15,147.8,150.45,153.1,155.75],"format":".3f","grid":true,"gridColor":"#5e5e5e","gridDash":[1,2],"tickSize":3,"labelPadding":3,"labelFlush":false,"labelOverlap":false,"title":null}},
"y2":{"field":"y2"}}},
{"mark":{"type":"text","color":"#000000","fontSize":7,"align":"left","baseline":"middle","font":"Liberation Sans"},
"encoding":{
"x":{"field":"tx","type":"quantitative","scale":{"domain":[0,278.8],"nice":false,"zero":false},"axis":{"orient":"bottom","values":[0,12,24,36,48,60,72,84,96,108,120,132,144,156,168,180,192,204,216,228,240,252,264,276],"labels":false,"ticks":false,"grid":true,"gridColor":"#5e5e5e","gridDash":[1,2],"domain":true,"title":null}},
"y":{"field":"p","type":"quantitative","scale":{"domain":[123.05,156.81],"nice":false,"zero":false},"axis":{"orient":"right","values":[123.95,126.6,129.25,131.9,134.55,137.2,139.85,142.5,145.15,147.8,150.45,153.1,155.75],"format":".3f","grid":true,"gridColor":"#5e5e5e","gridDash":[1,2],"tickSize":3,"labelPadding":3,"labelFlush":false,"labelOverlap":false,"title":null}},
"text":{"field":"lab"}}}
]},
{"data":{"values":[{"x":1.2,"y":156.3,"lab":"▼ USDJPY,Daily  142.761 142.909 140.918 141.347"}]},
"mark":{"type":"text","color":"#e8e8e8","fontSize":7,"align":"left","baseline":"middle","font":"Liberation Sans"},
"encoding":{
"x":{"field":"x","type":"quantitative","scale":{"domain":[0,278.8],"nice":false,"zero":false},"axis":{"orient":"bottom","values":[0,12,24,36,48,60,72,84,96,108,120,132,144,156,168,180,192,204,216,228,240,252,264,276],"labels":false,"ticks":false,"grid":true,"gridColor":"#5e5e5e","gridDash":[1,2],"domain":true,"title":null}},
"y":{"field":"y","type":"quantitative","scale":{"domain":[123.05,156.81],"nice":false,"zero":false},"axis":{"orient":"right","values":[123.95,126.6,129.25,131.9,134.55,137.2,139.85,142.5,145.15,147.8,150.45,153.1,155.75],"format":".3f","grid":true,"gridColor":"#5e5e5e","gridDash":[1,2],"tickSize":3,"labelPadding":3,"labelFlush":false,"labelOverlap":false,"title":null}},
"text":{"field":"lab"}}}
]
},
{
"width":568,"height":85,
"layer":[
{"data":{"name":"seg"},"mark":{"type":"rect","clip":true},
"encoding":{
"x":{"field":"a","type":"quantitative","scale":{"domain":[0,278.8],"nice":false,"zero":false},"axis":{"orient":"bottom","values":[0,24,48,72,96,120,144,168,192,216,240,264],"labelExpr":"['23 Nov 2022','27 Dec 2022','30 Jan 2023','3 Mar 2023','6 Apr 2023','10 May 2023','13 Jun 2023','17 Jul 2023','18 Aug 2023','21 Sep 2023','25 Oct 2023','28 Nov 2023'][round(datum.value/24)]","labelAlign":"left","labelPadding":1,"tickSize":3,"grid":false,"labelOverlap":false,"labelFlush":false,"title":null}},
"x2":{"field":"b"},
"y":{"field":"lo","type":"quantitative","scale":{"domain":[0.085,1.05],"nice":false,"zero":false},"axis":{"orient":"right","values":[0.085,1.05],"labelExpr":"datum.value > 0.5 ? '1.05' : '0.085'","tickSize":3,"labelPadding":3,"labelFlush":false,"labelOverlap":false,"grid":false,"title":null}},
"y2":{"field":"hi"},
"color":{"field":"t","type":"nominal","scale":{"domain":["y","r"],"range":["#ffe845","#d80000"]},"legend":null}}},
{"data":{"name":"osc"},"transform":[{"filter":"datum.s=='g'"}],"mark":{"type":"line","color":"#62a01c","strokeWidth":1.3,"clip":true},
"encoding":{
"x":{"field":"i","type":"quantitative","scale":{"domain":[0,278.8],"nice":false,"zero":false},"axis":{"orient":"bottom","values":[0,24,48,72,96,120,144,168,192,216,240,264],"labelExpr":"['23 Nov 2022','27 Dec 2022','30 Jan 2023','3 Mar 2023','6 Apr 2023','10 May 2023','13 Jun 2023','17 Jul 2023','18 Aug 2023','21 Sep 2023','25 Oct 2023','28 Nov 2023'][round(datum.value/24)]","labelAlign":"left","labelPadding":1,"tickSize":3,"grid":false,"labelOverlap":false,"labelFlush":false,"title":null}},
"y":{"field":"v","type":"quantitative","scale":{"domain":[0.085,1.05],"nice":false,"zero":false},"axis":{"orient":"right","values":[0.085,1.05],"labelExpr":"datum.value > 0.5 ? '1.05' : '0.085'","tickSize":3,"labelPadding":3,"labelFlush":false,"labelOverlap":false,"grid":false,"title":null}}}},
{"data":{"name":"osc"},"transform":[{"filter":"datum.s=='b'"}],"mark":{"type":"line","color":"#3a2ccc","strokeWidth":1.6,"clip":true},
"encoding":{
"x":{"field":"i","type":"quantitative","scale":{"domain":[0,278.8],"nice":false,"zero":false},"axis":{"orient":"bottom","values":[0,24,48,72,96,120,144,168,192,216,240,264],"labelExpr":"['23 Nov 2022','27 Dec 2022','30 Jan 2023','3 Mar 2023','6 Apr 2023','10 May 2023','13 Jun 2023','17 Jul 2023','18 Aug 2023','21 Sep 2023','25 Oct 2023','28 Nov 2023'][round(datum.value/24)]","labelAlign":"left","labelPadding":1,"tickSize":3,"grid":false,"labelOverlap":false,"labelFlush":false,"title":null}},
"y":{"field":"v","type":"quantitative","scale":{"domain":[0.085,1.05],"nice":false,"zero":false},"axis":{"orient":"right","values":[0.085,1.05],"labelExpr":"datum.value > 0.5 ? '1.05' : '0.085'","tickSize":3,"labelPadding":3,"labelFlush":false,"labelOverlap":false,"grid":false,"title":null}}}},
{"data":{"values":[{"x":38.5,"y":1.04,"lab":"StdDev(20) 2.6299  StdDev(50) 3.1868"}]},
"mark":{"type":"text","color":"#e6e6e6","fontSize":7,"align":"left","baseline":"middle","font":"Liberation Sans"},
"encoding":{
"x":{"field":"x","type":"quantitative","scale":{"domain":[0,278.8],"nice":false,"zero":false},"axis":{"orient":"bottom","values":[0,24,48,72,96,120,144,168,192,216,240,264],"labelExpr":"['23 Nov 2022','27 Dec 2022','30 Jan 2023','3 Mar 2023','6 Apr 2023','10 May 2023','13 Jun 2023','17 Jul 2023','18 Aug 2023','21 Sep 2023','25 Oct 2023','28 Nov 2023'][round(datum.value/24)]","labelAlign":"left","labelPadding":1,"tickSize":3,"grid":false,"labelOverlap":false,"labelFlush":false,"title":null}},
"y":{"field":"y","type":"quantitative","scale":{"domain":[0.085,1.05],"nice":false,"zero":false},"axis":{"orient":"right","values":[0.085,1.05],"labelExpr":"datum.value > 0.5 ? '1.05' : '0.085'","tickSize":3,"labelPadding":3,"labelFlush":false,"labelOverlap":false,"grid":false,"title":null}},
"text":{"field":"lab"}}}
]
}
]
}
